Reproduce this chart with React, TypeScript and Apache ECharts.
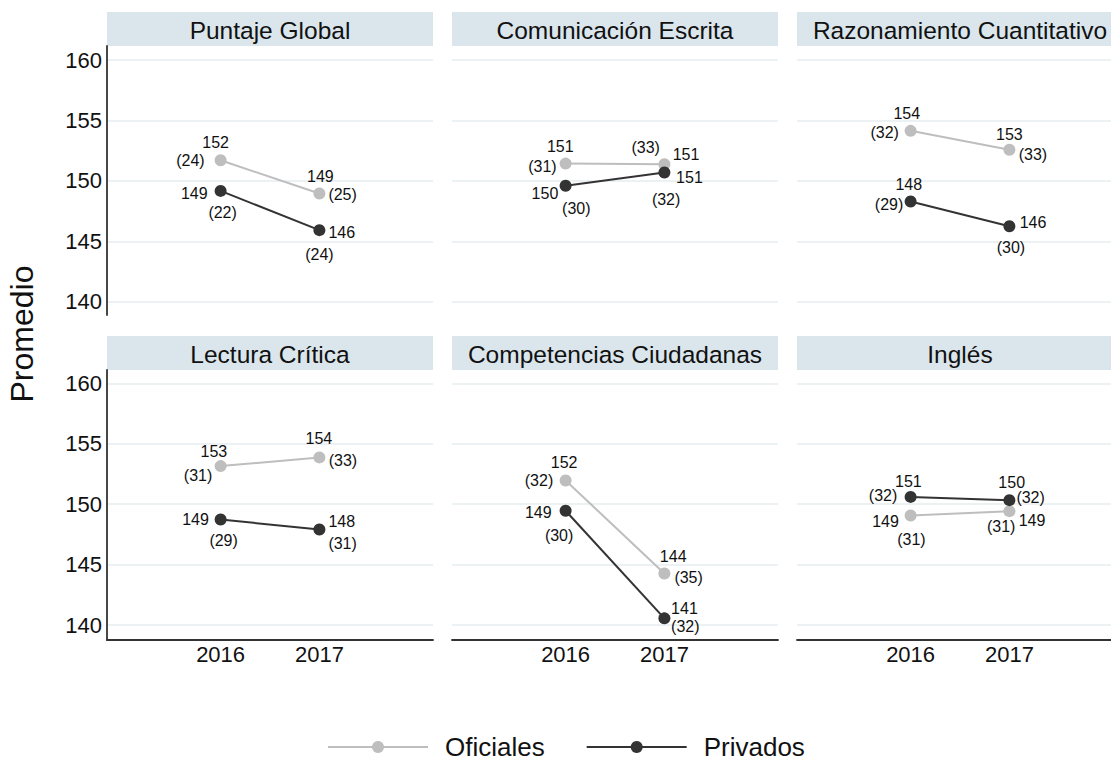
import React, { useEffect, useRef } from 'react';
import * as echarts from 'echarts';

// ---------- data ----------
const panelTitles = [
  'Puntaje Global',
  'Comunicación Escrita',
  'Razonamiento Cuantitativo',
  'Lectura Crítica',
  'Competencias Ciudadanas',
  'Inglés',
];
const years = [2016, 2017];
const seriesNames = ['Oficiales', 'Privados'];
const oficiales = [
  [151.7, 148.95],
  [151.43, 151.38],
  [154.14, 152.57],
  [153.15, 153.87],
  [151.96, 144.26],
  [149.06, 149.42],
];
const privados = [
  [149.17, 145.92],
  [149.59, 150.69],
  [148.29, 146.25],
  [148.73, 147.9],
  [149.45, 140.55],
  [150.6, 150.33],
];
const oficialesN = [
  [24, 25],
  [31, 33],
  [32, 33],
  [31, 33],
  [32, 35],
  [31, 31],
];
const privadosN = [
  [22, 24],
  [30, 32],
  [29, 30],
  [29, 31],
  [30, 32],
  [32, 32],
];
const yTicks = [140, 145, 150, 155, 160];
const xTicks = [2016, 2017];

// ---------- layout / styles ----------
type Spec = [string, number, number];
const labelPos: { ofNum: Spec[]; ofN: Spec[]; prNum: Spec[]; prN: Spec[] }[] = [
  {
    ofNum: [['c', -5, -17.6], ['c', 1, -17]],
    ofN: [['r', -16, 0], ['l', 9, 0.6]],
    prNum: [['r', -13, 2.7], ['l', 9, 2.3]],
    prN: [['c', 2, 22], ['c', 0, 24.7]],
  },
  {
    ofNum: [['c', -5.3, -17.2], ['l', 8.3, -10]],
    ofN: [['r', -9, 3], ['c', -18.7, -16.3]],
    prNum: [['r', -7.3, 7.7], ['l', 11.7, 5]],
    prN: [['c', 10.7, 22.3], ['c', 1.7, 26.7]],
  },
  {
    ofNum: [['c', -3.8, -17.7], ['c', 0, -15.7]],
    ofN: [['r', -11.7, 1.7], ['l', 9.3, 4.3]],
    prNum: [['c', -1.8, -17], ['l', 10.3, -3.7]],
    prN: [['r', -7.3, 2.7], ['c', 1.5, 21.3]],
  },
  {
    ofNum: [['c', -6.7, -14.3], ['c', -0.5, -18.6]],
    ofN: [['r', -8.3, 9], ['l', 9.3, 3.4]],
    prNum: [['r', -11.7, 0], ['l', 9, -7.6]],
    prN: [['c', 3, 21.4], ['l', 9, 14]],
  },
  {
    ofNum: [['c', -1.5, -18.1], ['c', 8.8, -17]],
    ofN: [['r', -12.4, 0], ['l', 10, 4]],
    prNum: [['r', -14, 2], ['l', 6.7, -9.7]],
    prN: [['c', -6.5, 24.3], ['l', 6.7, 7.7]],
  },
  {
    ofNum: [['r', -11.7, 5.7], ['l', 9.3, 9.7]],
    ofN: [['c', 0.8, 24], ['r', 6, 15.7]],
    prNum: [['c', -2.2, -15.5], ['c', 2.3, -17.7]],
    prN: [['r', -13.3, -1.7], ['l', 7, -2.7]],
  },
];

const FONT = "'Liberation Sans', Arial, Helvetica, sans-serif";
const GRAY = '#bebebe';
const DARK = '#333333';
const TEXT = '#111111';
const COLS = [107, 452, 797];
const PANEL_W = 326;
const ROWS = [
  { top: 46, height: 269, min: 138.9, max: 161.16, header: 12 },
  { top: 370, height: 270, min: 138.76, max: 161.1, header: 336 },
];
const HEADER_H = 34;

function lab(text: string, spec: Spec) {
  const [a, dx, dy] = spec;
  return {
    show: true,
    position: 'inside',
    offset: [dx, dy],
    align: a === 'l' ? 'left' : a === 'r' ? 'right' : 'center',
    verticalAlign: 'middle',
    formatter: text,
    fontSize: 16,
    color: TEXT,
    opacity: 1,
    fontFamily: FONT,
  };
}

function buildOption() {
  const grid: any[] = [];
  const xAxis: any[] = [];
  const yAxis: any[] = [];
  const series: any[] = [];
  const graphic: any[] = [];

  panelTitles.forEach((title, i) => {
    const r = Math.floor(i / 3);
    const c = i % 3;
    const row = ROWS[r];
    const left = COLS[c];
    grid.push({
      left,
      top: row.top,
      width: PANEL_W,
      height: row.height,
      containLabel: false,
      outerBoundsMode: 'none',
    });
    xAxis.push({
      type: 'value',
      gridIndex: i,
      min: 2014.85,
      max: 2018.15,
      splitLine: { show: false },
      axisTick: { show: false },
      axisLine: { show: r === 1, onZero: false, lineStyle: { color: DARK, width: 1.8 } },
      axisLabel: {
        show: r === 1,
        customValues: xTicks,
        formatter: (v: number) => String(v),
        fontSize: 22,
        color: TEXT,
        fontFamily: FONT,
        margin: 3,
      },
    });
    yAxis.push({
      type: 'value',
      gridIndex: i,
      min: row.min,
      max: row.max,
      axisTick: { show: false, customValues: yTicks },
      axisLabel: {
        show: c === 0,
        customValues: yTicks,
        fontSize: 22,
        color: TEXT,
        fontFamily: FONT,
        margin: 5,
      },
      axisLine: { show: c === 0, onZero: false, lineStyle: { color: DARK, width: 1.8 } },
      splitLine: { show: true, lineStyle: { color: '#e6eef1', width: 1.6 } },
    });

    const L = labelPos[i];
    const groups = [
      { name: seriesNames[0], vals: oficiales[i], ns: oficialesN[i], color: GRAY, num: L.ofNum, n: L.ofN },
      { name: seriesNames[1], vals: privados[i], ns: privadosN[i], color: DARK, num: L.prNum, n: L.prN },
    ];
    groups.forEach((g, k) => {
      series.push({
        type: 'line',
        name: g.name,
        xAxisIndex: i,
        yAxisIndex: i,
        symbol: 'circle',
        symbolSize: 12,
        z: 3 + k,
        lineStyle: { color: g.color, width: 2 },
        itemStyle: { color: g.color },
        emphasis: { disabled: true },
        data: years.map((y, j) => ({
          value: [y, g.vals[j]],
          label: lab(String(Math.round(g.vals[j])), g.num[j] as Spec),
        })),
      });
    });
    groups.forEach((g) => {
      series.push({
        type: 'scatter',
        name: 'n-' + g.name + '-' + i,
        xAxisIndex: i,
        yAxisIndex: i,
        symbolSize: 1,
        silent: true,
        z: 6,
        itemStyle: { color: 'rgba(0,0,0,0)', opacity: 1 },
        emphasis: { disabled: true },
        data: years.map((y, j) => ({
          value: [y, g.vals[j]],
          label: lab('(' + g.ns[j] + ')', g.n[j] as Spec),
        })),
      });
    });

    graphic.push({
      type: 'rect',
      shape: { x: left, y: row.header, width: PANEL_W, height: HEADER_H },
      style: { fill: '#dae6ec' },
      silent: true,
    });
    graphic.push({
      type: 'text',
      x: left + PANEL_W / 2,
      y: row.header + HEADER_H / 2 + 1,
      style: {
        text: title,
        align: 'center',
        verticalAlign: 'middle',
        fontSize: 24.5,
        fontFamily: FONT,
        fill: TEXT,
      },
      silent: true,
    });
  });

  graphic.push({
    type: 'text',
    x: 22,
    y: 334,
    rotation: Math.PI / 2,
    style: {
      text: 'Promedio',
      align: 'center',
      verticalAlign: 'middle',
      fontSize: 32,
      fontFamily: FONT,
      fill: TEXT,
    },
    silent: true,
  });

  return {
    animation: false,
    backgroundColor: '#ffffff',
    textStyle: { fontFamily: FONT },
    grid,
    xAxis,
    yAxis,
    series,
    graphic,
    legend: {
      data: seriesNames,
      left: 327,
      top: 734,
      padding: 0,
      itemWidth: 100,
      itemHeight: 15,
      itemGap: 41,
      selectedMode: false,
      formatter: (name: string) => '{g| }{t|' + name + '}',
      textStyle: {
        fontSize: 26,
        color: TEXT,
        fontFamily: FONT,
        rich: {
          g: { width: 12, fontSize: 26, fontFamily: FONT },
          t: { fontSize: 26, color: TEXT, fontFamily: FONT },
        },
      },
    },
  };
}

export default function App() {
  const ref = useRef<HTMLDivElement>(null);
  useEffect(() => {
    if (!ref.current) return;
    const chart = echarts.init(ref.current, null, { renderer: 'svg' });
    chart.setOption(buildOption() as any);
    return () => chart.dispose();
  }, []);
  return (
    <div
      ref={ref}
      style={{ position: 'fixed', left: 0, top: 0, width: 1111, height: 761, background: '#fff' }}
    />
  );
}
